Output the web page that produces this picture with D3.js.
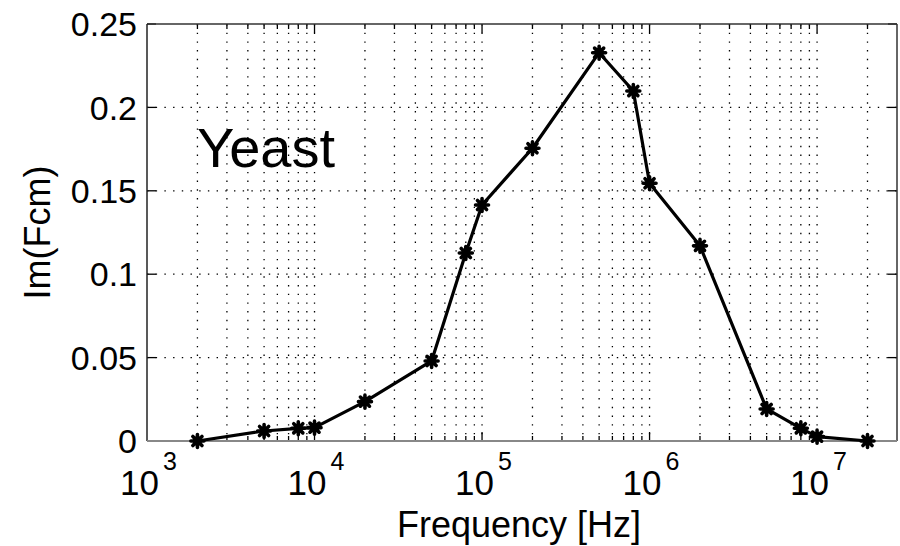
<!DOCTYPE html>
<html>
<head>
<meta charset="utf-8">
<script src="https://cdn.jsdelivr.net/npm/d3@7"></script>
<style>
  body { margin: 0; background: #fff; }
  svg text { font-family: "Liberation Sans", Arial, Helvetica, sans-serif; fill: #000; }
</style>
</head>
<body>
<svg id="chart" width="900" height="546"></svg>
<script>
// frequency points [Hz] and Im(Fcm) values
const freqs = [2e3, 5e3, 8e3, 1e4, 2e4, 5e4, 8e4, 1e5, 2e5, 5e5, 8e5, 1e6, 2e6, 5e6, 8e6, 1e7, 2e7];
const imFcm = [0.0, 0.006, 0.0076, 0.008, 0.0236, 0.048, 0.1127, 0.1415, 0.1755, 0.2328, 0.2098, 0.1545, 0.117, 0.0192, 0.0076, 0.0026, 0.0];
const yTicks = [0, 0.05, 0.1, 0.15, 0.2, 0.25];
const yTickLabels = ["0", "0.05", "0.1", "0.15", "0.2", "0.25"];
const decades = [1e3, 1e4, 1e5, 1e6, 1e7];

const margin = { left: 147, right: 3, top: 24, bottom: 105 };
const width = 900, height = 546;

const svg = d3.select("#chart");

const x = d3.scaleLog()
  .domain([1e3, 3e7])
  .range([margin.left, width - margin.right]);
const y = d3.scaleLinear()
  .domain([0, 0.25])
  .range([height - margin.bottom, margin.top]);

const x0 = x.range()[0], x1 = x.range()[1];
const y0 = y.range()[0], y1 = y.range()[1];

// minor + major positions on the log axis
const logTicks = [];
decades.forEach(d => {
  for (let m = 1; m <= 9; m++) {
    const v = d * m;
    if (v <= 3e7) logTicks.push(v);
  }
});
const xGridVals = Array.from(new Set(logTicks)).filter(v => v > 1e3 && v < 3e7);

// grid
const grid = svg.append("g");
grid.selectAll(".vgrid")
  .data(xGridVals)
  .enter().append("line")
  .attr("x1", d => x(d)).attr("x2", d => x(d))
  .attr("y1", y1).attr("y2", y0)
  .attr("stroke", "#000")
  .attr("stroke-width", 1.3)
  .attr("stroke-dasharray", "1.4,7.3");

grid.selectAll(".hgrid")
  .data(yTicks.slice(1, -1))
  .enter().append("line")
  .attr("x1", x0).attr("x2", x1)
  .attr("y1", d => y(d)).attr("y2", d => y(d))
  .attr("stroke", "#000")
  .attr("stroke-width", 1.3)
  .attr("stroke-dasharray", "1.4,7.3");

// ticks on bottom and top (inward)
const isMajor = v => decades.includes(v);
const ticksG = svg.append("g").attr("stroke", "#000").attr("stroke-width", 1.3);
xGridVals.forEach(v => {
  const len = isMajor(v) ? 9 : 5;
  ticksG.append("line").attr("x1", x(v)).attr("x2", x(v)).attr("y1", y0).attr("y2", y0 - len);
  ticksG.append("line").attr("x1", x(v)).attr("x2", x(v)).attr("y1", y1).attr("y2", y1 + len);
});
yTicks.forEach(v => {
  ticksG.append("line").attr("x1", x0).attr("x2", x0 + 9).attr("y1", y(v)).attr("y2", y(v));
  ticksG.append("line").attr("x1", x1).attr("x2", x1 - 9).attr("y1", y(v)).attr("y2", y(v));
});

// box
svg.append("line").attr("x1", x0).attr("x2", x1).attr("y1", y1).attr("y2", y1)
  .attr("stroke", "#333").attr("stroke-width", 1.5);
svg.append("line").attr("x1", x1).attr("x2", x1).attr("y1", y1).attr("y2", y0)
  .attr("stroke", "#333").attr("stroke-width", 1.5);
svg.append("line").attr("x1", x0).attr("x2", x0).attr("y1", y1).attr("y2", y0)
  .attr("stroke", "#222").attr("stroke-width", 1.5);
svg.append("line").attr("x1", x0).attr("x2", x1).attr("y1", y0).attr("y2", y0)
  .attr("stroke", "#888").attr("stroke-width", 2);

// y tick labels
svg.append("g").selectAll("text")
  .data(yTicks)
  .enter().append("text")
  .attr("x", x0 - 10)
  .attr("y", d => y(d))
  .attr("dy", "0.36em")
  .attr("text-anchor", "end")
  .attr("font-size", 34)
  .text((d, i) => yTickLabels[i]);

// x tick labels 10^n
const xl = svg.append("g").selectAll("text")
  .data(decades)
  .enter().append("text")
  .attr("x", d => x(d) - 27)
  .attr("y", 495)
  .attr("font-size", 35);
xl.append("tspan").text("10");
xl.append("tspan")
  .attr("font-size", 25)
  .attr("dx", 4)
  .attr("dy", -25)
  .text(d => Math.round(Math.log10(d)));

// axis titles
svg.append("text")
  .attr("x", (x0 + x1) / 2 - 3)
  .attr("y", 537)
  .attr("text-anchor", "middle")
  .attr("font-size", 36)
  .text("Frequency [Hz]");

svg.append("text")
  .attr("transform", `translate(50,${(y0 + y1) / 2}) rotate(-90)`)
  .attr("text-anchor", "middle")
  .attr("font-size", 36)
  .text("Im(Fcm)");

// annotation
svg.append("text")
  .attr("x", 197)
  .attr("y", 167)
  .attr("font-size", 56)
  .text("Yeast");

// data line
const pts = freqs.map((f, i) => [f, imFcm[i]]);
svg.append("path")
  .datum(pts)
  .attr("fill", "none")
  .attr("stroke", "#000")
  .attr("stroke-width", 3.2)
  .attr("stroke-linejoin", "round")
  .attr("d", d3.line().x(d => x(d[0])).y(d => y(d[1])));

// star markers
const r = 6.5;
const starPath = `M0,${-r}L0,${r}M${-r},0L${r},0M${-r * 0.7},${-r * 0.7}L${r * 0.7},${r * 0.7}M${-r * 0.7},${r * 0.7}L${r * 0.7},${-r * 0.7}`;
const marks = svg.append("g").selectAll("g")
  .data(pts)
  .enter().append("g")
  .attr("transform", d => `translate(${x(d[0])},${y(d[1])})`);
marks.append("path")
  .attr("d", starPath)
  .attr("stroke", "#000")
  .attr("stroke-width", 3.6)
  .attr("stroke-linecap", "round");
marks.append("circle")
  .attr("r", 3.5)
  .attr("fill", "#000");
</script>
</body>
</html>
